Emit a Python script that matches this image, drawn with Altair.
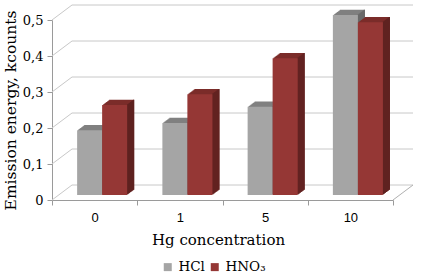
import altair as alt
import pandas as pd

categories = ["0", "1", "5", "10"]
series = ["HCl", "HNO₃"]
hcl = [0.18, 0.20, 0.245, 0.50]
hno3 = [0.25, 0.28, 0.38, 0.48]
y_ticks = [0, 0.1, 0.2, 0.3, 0.4, 0.5]

front_colors = ["#a5a5a5", "#953735"]
top_colors = ["#808080", "#7b2c2a"]
side_colors = ["#6a6a6a", "#5f2220"]

W, H = 341, 180
SERIF = "DejaVu Serif"
SANS = "Liberation Sans"

rows = []
for c, a, b in zip(categories, hcl, hno3):
    rows.append({"cat": c, "series": series[0], "val": a})
    rows.append({"cat": c, "series": series[1], "val": b})
df = pd.DataFrame(rows)
ticks_df = pd.DataFrame({"val": y_ticks})

yscale = alt.Scale(domain=[0, 0.5], nice=False)
xscale = alt.Scale(domain=categories, paddingInner=0, paddingOuter=0)

xaxis = alt.Axis(title="Hg concentration", titleFont=SERIF, titleFontSize=15,
                 titleFontWeight="normal", titleColor="#000000", titlePadding=8,
                 titleX=166,
                 labelFont=SANS, labelFontSize=13, labelColor="#000000",
                 labelAngle=0, labelPadding=6, tickBand="extent", tickSize=5,
                 tickColor="#9a9a9a", domainColor="#9a9a9a")
yaxis = alt.Axis(values=y_ticks, grid=False, title="Emission energy, kcounts",
                 titleFont=SERIF, titleFontSize=15.5, titleFontWeight="normal",
                 titleColor="#000000", titlePadding=4,
                 labelFont=SERIF, labelFontSize=13, labelColor="#000000",
                 labelOverlap=False, labelFlush=False,
                 labelPadding=4, tickSize=5, tickColor="#9a9a9a",
                 domainColor="#9a9a9a",
                 labelExpr="datum.value == 0 ? '0' : replace(format(datum.value, '.1f'), '.', ',')")

def X():
    return alt.X("cat:N", sort=categories, scale=xscale, axis=xaxis)

def Y():
    return alt.Y("val:Q", scale=yscale, axis=yaxis)

# depth of the bars' front plane and of the back wall (pixels)
BDX, BDY = 7.5, -5
WDX, WDY = 20, -15
BW = 25
STEPS = 7
SDX, SDY = 1.0, -0.75

grid_diag = alt.Chart(ticks_df).mark_rule(color="#c8c8c8", strokeWidth=1, y2Offset=WDY).encode(
    x=alt.value(0), x2=alt.value(WDX), y=Y(), y2="val:Q")
grid_back = alt.Chart(ticks_df).mark_rule(color="#c8c8c8", strokeWidth=1, yOffset=WDY).encode(
    x=alt.value(WDX), x2=alt.value(W + WDX), y=Y())
floor_right = alt.Chart(ticks_df).transform_filter("datum.val == 0").mark_rule(
    color="#b0b0b0", strokeWidth=1, y2Offset=WDY).encode(
    x=alt.value(W), x2=alt.value(W + WDX), y=Y(), y2="val:Q")

layers = [grid_diag, grid_back, floor_right]

for i, s in enumerate(series):
    off = (-BW / 2 if i == 0 else BW / 2) + BDX
    base = alt.Chart(df).transform_filter(alt.datum.series == s)
    for k in range(STEPS, 0, -1):
        dx = SDX * k
        dy = BDY + SDY * k
        layers.append(base.mark_bar(width=BW, xOffset=off + dx, yOffset=dy, y2Offset=dy,
                                    color=top_colors[i]).encode(
            x=X(), y=Y(), y2=alt.datum(0)))
    for k in range(STEPS, 0, -1):
        dx = SDX * k
        dy = BDY + SDY * k
        layers.append(base.mark_bar(width=1.2, xOffset=off + BW / 2 + dx - 0.5, yOffset=dy,
                                    y2Offset=dy, color=side_colors[i]).encode(
            x=X(), y=Y(), y2=alt.datum(0)))
    layers.append(base.mark_bar(width=BW, xOffset=off, yOffset=BDY, y2Offset=BDY).encode(
        x=X(), y=Y(), y2=alt.datum(0),
        color=alt.Color("series:N", scale=alt.Scale(domain=series, range=front_colors),
                        legend=alt.Legend(title=None, orient="none", direction="horizontal",
                                          legendX=109, legendY=240, symbolType="square",
                                          symbolSize=64, symbolStrokeWidth=0,
                                          labelFont=SERIF, labelFontSize=13.5,
                                          labelColor="#000000", labelOffset=4,
                                          columnPadding=3, padding=0))))

chart = alt.layer(*layers).resolve_scale(x="shared", y="shared").properties(
    width=W, height=H,
    autosize=alt.AutoSizeParams(type="none"),
    padding={"left": 52, "top": 20, "right": 29, "bottom": 80},
    background="#ffffff",
).configure_view(stroke=None)

chart.save("out.html", embed_options={"renderer": "svg", "actions": False})
